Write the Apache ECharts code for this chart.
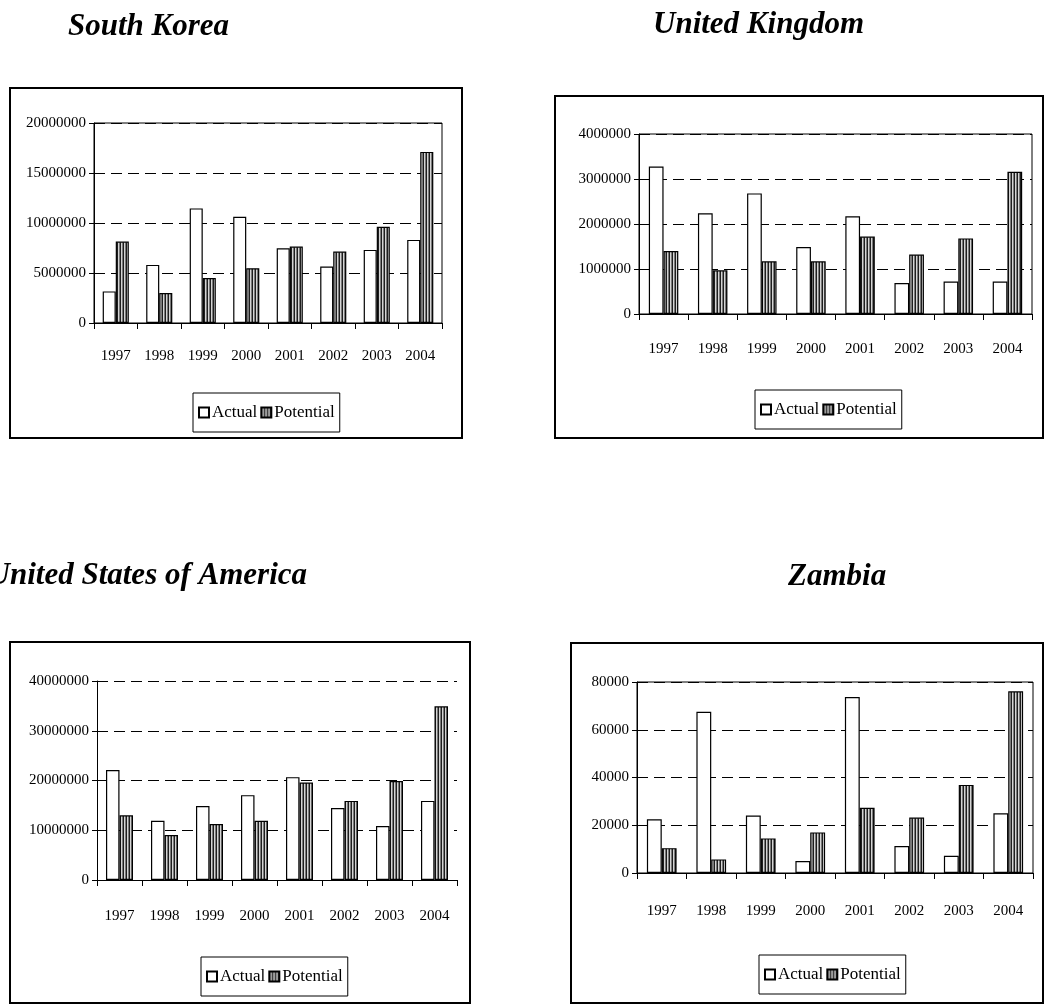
<!DOCTYPE html>
<html>
<head>
<meta charset="utf-8">
<script src="https://cdn.jsdelivr.net/npm/echarts@6/dist/echarts.min.js"></script>
<style>
html,body{margin:0;padding:0;background:#fff;}
#c{width:1046px;height:1006px;}
</style>
</head>
<body>
<div id="c"></div>
<script>
const years = ['1997','1998','1999','2000','2001','2002','2003','2004'];
const seriesNames = ['Actual','Potential'];
const countries = ['South Korea','United Kingdom','United States of America','Zambia'];
const koreaActual = [3160000, 5810000, 11460000, 10630000, 7480000, 5650000, 7310000, 8310000];
const koreaPotential = [8140000, 2990000, 4490000, 5480000, 7640000, 7140000, 9630000, 17110000];
const ukActual = [3275000, 2240000, 2680000, 1490000, 2170000, 690000, 720000, 720000];
const ukPotential = [1400000, 970000, 1170000, 1170000, 1720000, 1320000, 1680000, 3160000];
const usaActual = [22100000, 11900000, 14850000, 17060000, 20670000, 14450000, 10840000, 15900000];
const usaPotential = [13000000, 9030000, 11240000, 11900000, 19600000, 15900000, 19900000, 34900000];
const zambiaActual = [22500, 67500, 24100, 5000, 73700, 11300, 7200, 25000];
const zambiaPotential = [10400, 5700, 14500, 17000, 27300, 23200, 36900, 76100];
const yMax = [20000000, 4000000, 40000000, 80000];
const yInterval = [5000000, 1000000, 10000000, 20000];

const actualData = [koreaActual, ukActual, usaActual, zambiaActual];
const potentialData = [koreaPotential, ukPotential, usaPotential, zambiaPotential];

// layout
const grids = [
  {left: 94, top: 123, width: 348, height: 200, border: true, labelMargin: 26},
  {left: 639, top: 134, width: 393, height: 180, border: true, labelMargin: 28},
  {left: 97, top: 681, width: 360, height: 199, border: false, labelMargin: 29},
  {left: 637, top: 682, width: 396, height: 191, border: true, labelMargin: 31}
];
const boxes = [
  {x: 10, y: 88, w: 452, h: 350},
  {x: 555, y: 96, w: 488, h: 342},
  {x: 10, y: 642, w: 460, h: 361},
  {x: 571, y: 643, w: 472, h: 360}
];
const titlePos = [
  {x: 68, y: 27, align: 'left'},
  {x: 653, y: 25, align: 'left'},
  {x: 307, y: 576, align: 'right'},
  {x: 788, y: 577, align: 'left'}
];
const legendPos = [
  {left: 193, top: 393},
  {left: 755, top: 390},
  {left: 201, top: 957},
  {left: 759, top: 955}
];

// vertical stripe pattern
const pc = document.createElement('canvas');
pc.width = 3; pc.height = 4;
const pctx = pc.getContext('2d');
pctx.fillStyle = '#d4d4d4'; pctx.fillRect(0,0,3,4);
pctx.fillStyle = '#1e1e1e'; pctx.fillRect(0,0,1,4);
pctx.fillStyle = '#7a7a7a'; pctx.fillRect(2,0,1,4);
const stripe = {image: pc, repeat: 'repeat'};

const FONT = 'Liberation Serif, Times New Roman, serif';

const option = {
  animation: false,
  backgroundColor: '#fff',
  grid: [], xAxis: [], yAxis: [], series: [], legend: [], graphic: []
};

for (let i = 0; i < 4; i++) {
  const g = grids[i];
  option.grid.push({
    left: g.left, top: g.top, width: g.width, height: g.height,
    show: g.border, borderColor: '#000', borderWidth: 1, backgroundColor: 'transparent'
  });
  option.xAxis.push({
    type: 'category', gridIndex: i, data: years,
    axisLine: {lineStyle: {color: '#000', width: 1}},
    axisTick: {show: true, length: 6, alignWithLabel: false, lineStyle: {color: '#000'}},
    axisLabel: {color: '#000', fontFamily: FONT, fontSize: 15, margin: g.labelMargin},
    splitLine: {show: false}
  });
  option.yAxis.push({
    type: 'value', gridIndex: i, min: 0, max: yMax[i], interval: yInterval[i],
    axisLine: {show: true, lineStyle: {color: '#000', width: 1}},
    axisTick: {show: true, length: 5, lineStyle: {color: '#000'}},
    axisLabel: {color: '#000', fontFamily: FONT, fontSize: 15, margin: 8, formatter: v => String(v)},
    splitLine: {show: true, lineStyle: {color: '#000', width: 1, type: [11, 6]}}
  });
  option.series.push({
    name: seriesNames[0], type: 'bar', xAxisIndex: i, yAxisIndex: i,
    data: actualData[i], barWidth: '30%', barGap: '0%',
    itemStyle: {color: '#fff', borderColor: '#000', borderWidth: 1.2}
  });
  option.series.push({
    name: seriesNames[1], type: 'bar', xAxisIndex: i, yAxisIndex: i,
    data: potentialData[i], barWidth: '30%', barGap: '0%',
    itemStyle: {color: stripe, borderColor: '#000', borderWidth: 1.2}
  });
  option.legend.push({
    left: legendPos[i].left, top: legendPos[i].top,
    orient: 'horizontal', data: seriesNames,
    itemWidth: 10, itemHeight: 10, itemGap: 3,
    icon: 'rect',
    padding: [11, 5, 11, 5],
    borderColor: '#000', borderWidth: 1,
    selectedMode: false,
    textStyle: {color: '#000', fontFamily: FONT, fontSize: 17, padding: [0, 0, 0, -2]}
  });
  const b = boxes[i];
  option.graphic.push({
    type: 'rect', shape: {x: b.x, y: b.y, width: b.w, height: b.h},
    style: {fill: 'none', stroke: '#000', lineWidth: 2}, silent: true, z: 100
  });
  const t = titlePos[i];
  option.graphic.push({
    type: 'text', x: t.x, y: t.y,
    style: {text: countries[i], fill: '#000', font: 'italic bold 31px ' + FONT,
            textAlign: t.align, textVerticalAlign: 'middle'},
    silent: true
  });
}

const chart = echarts.init(document.getElementById('c'), null, {renderer: 'canvas'});
chart.setOption(option);
</script>
</body>
</html>
